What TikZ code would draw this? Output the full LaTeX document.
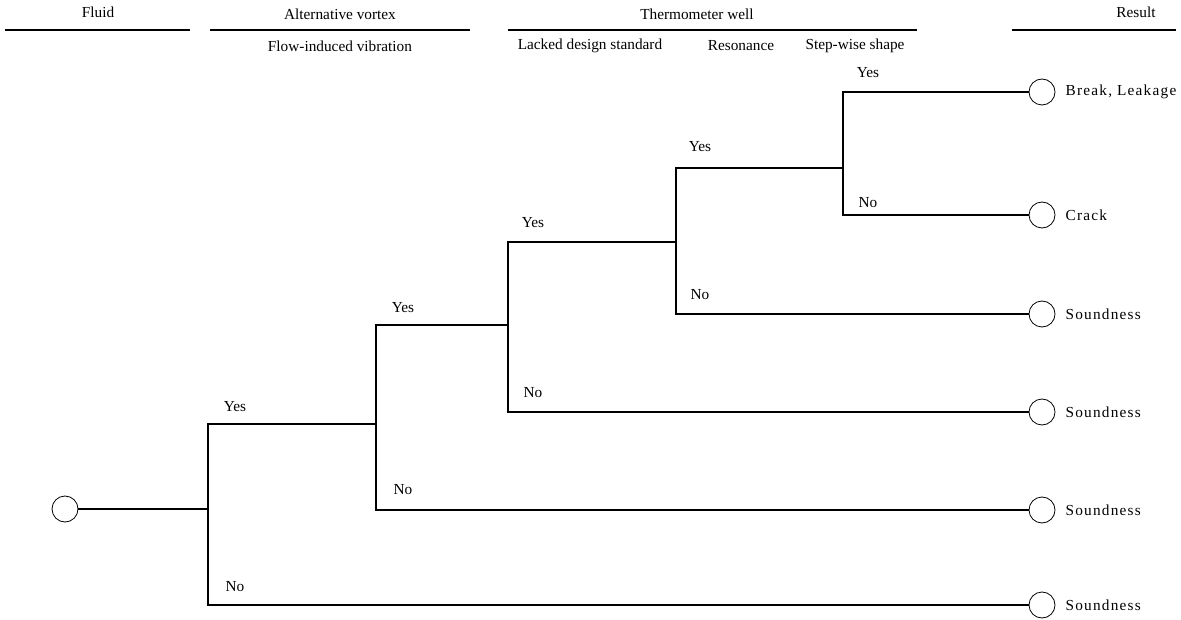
\documentclass[tikz,border=0pt]{standalone}
\usepackage{fontspec}
\setmainfont{Liberation Serif}
\newfontfamily\resfont[LetterSpace=8]{Liberation Serif}
\usetikzlibrary{positioning,calc}
\tikzset{ev/.style={circle,draw,line width=0.8pt,minimum size=26pt,inner sep=0pt},
 br/.style={line width=1.6pt},hd/.style={line width=1.8pt},
 lab/.style={font=\fontsize{15.3}{17}\selectfont,inner sep=0pt},
 res/.style={lab,anchor=west,font=\fontsize{15.3}{17}\resfont}}

\begin{document}
\begin{tikzpicture}[x=1pt,y=-1pt]
\useasboundingbox (0,0) rectangle (1181,620);
% header
\node[lab](hf) at (98,12){Fluid};\draw[hd](5,30)--(190,30);
\node[lab](ha) at (340,14){Alternative vortex};\draw[hd](210,30)--(470,30);
\node[lab](hv) at (340,46){Flow-induced vibration};
\node[lab](ht) at (697,14){Thermometer well};\draw[hd](508,30)--(917,30);
\node[lab](hl) at (590,46){Lacked design standard};
\node[lab](hr) at (741,46){Resonance};\node[lab](hs) at (855,46){Step-wise shape};
\node[lab](hz) at (1136,12){Result};\draw[hd](1012,30)--(1176,30);
% events
\node[ev](s) at (65,509){};
\node[ev](r1) at (1042,92){};\node[res,right=10pt of r1](t1){Break, Leakage};
\node[ev](r2) at (1042,215){};\node[res,right=10pt of r2](t2){Crack};
\node[ev](r3) at (1042,314){};\node[res,right=10pt of r3](t3){Soundness};
\node[ev](r4) at (1042,412){};\node[res,right=10pt of r4](t4){Soundness};
\node[ev](r5) at (1042,510){};\node[res,right=10pt of r5](t5){Soundness};
\node[ev](r6) at (1042,605){};\node[res,right=10pt of r6](t6){Soundness};
% branch points
\coordinate(k1) at (208,509);\coordinate(k2) at (376,424);\coordinate(k3) at (508,325);
\coordinate(k4) at (676,242);\coordinate(k5) at (843,168);
\draw[br](s)--(k1);
\draw[br](k2)-|(k1)|-(r6.west);
\draw[br](k3)-|(k2)|-(r5.west);
\draw[br](k4)-|(k3)|-(r4.west);
\draw[br](k5)-|(k4)|-(r3.west);
\draw[br](r1.west)-|(k5)|-(r2.west);
% yes / no
\node[lab](y1) at (235,407){Yes};\node[lab](n1) at (235,587){No};
\node[lab](y2) at (403,308){Yes};\node[lab](n2) at (403,490){No};
\node[lab](y3) at (533,223){Yes};\node[lab](n3) at (533,393){No};
\node[lab](y4) at (700,147){Yes};\node[lab](n4) at (700,295){No};
\node[lab](y5) at (868,73){Yes};\node[lab](n5) at (868,203){No};
\end{tikzpicture}
\end{document}
